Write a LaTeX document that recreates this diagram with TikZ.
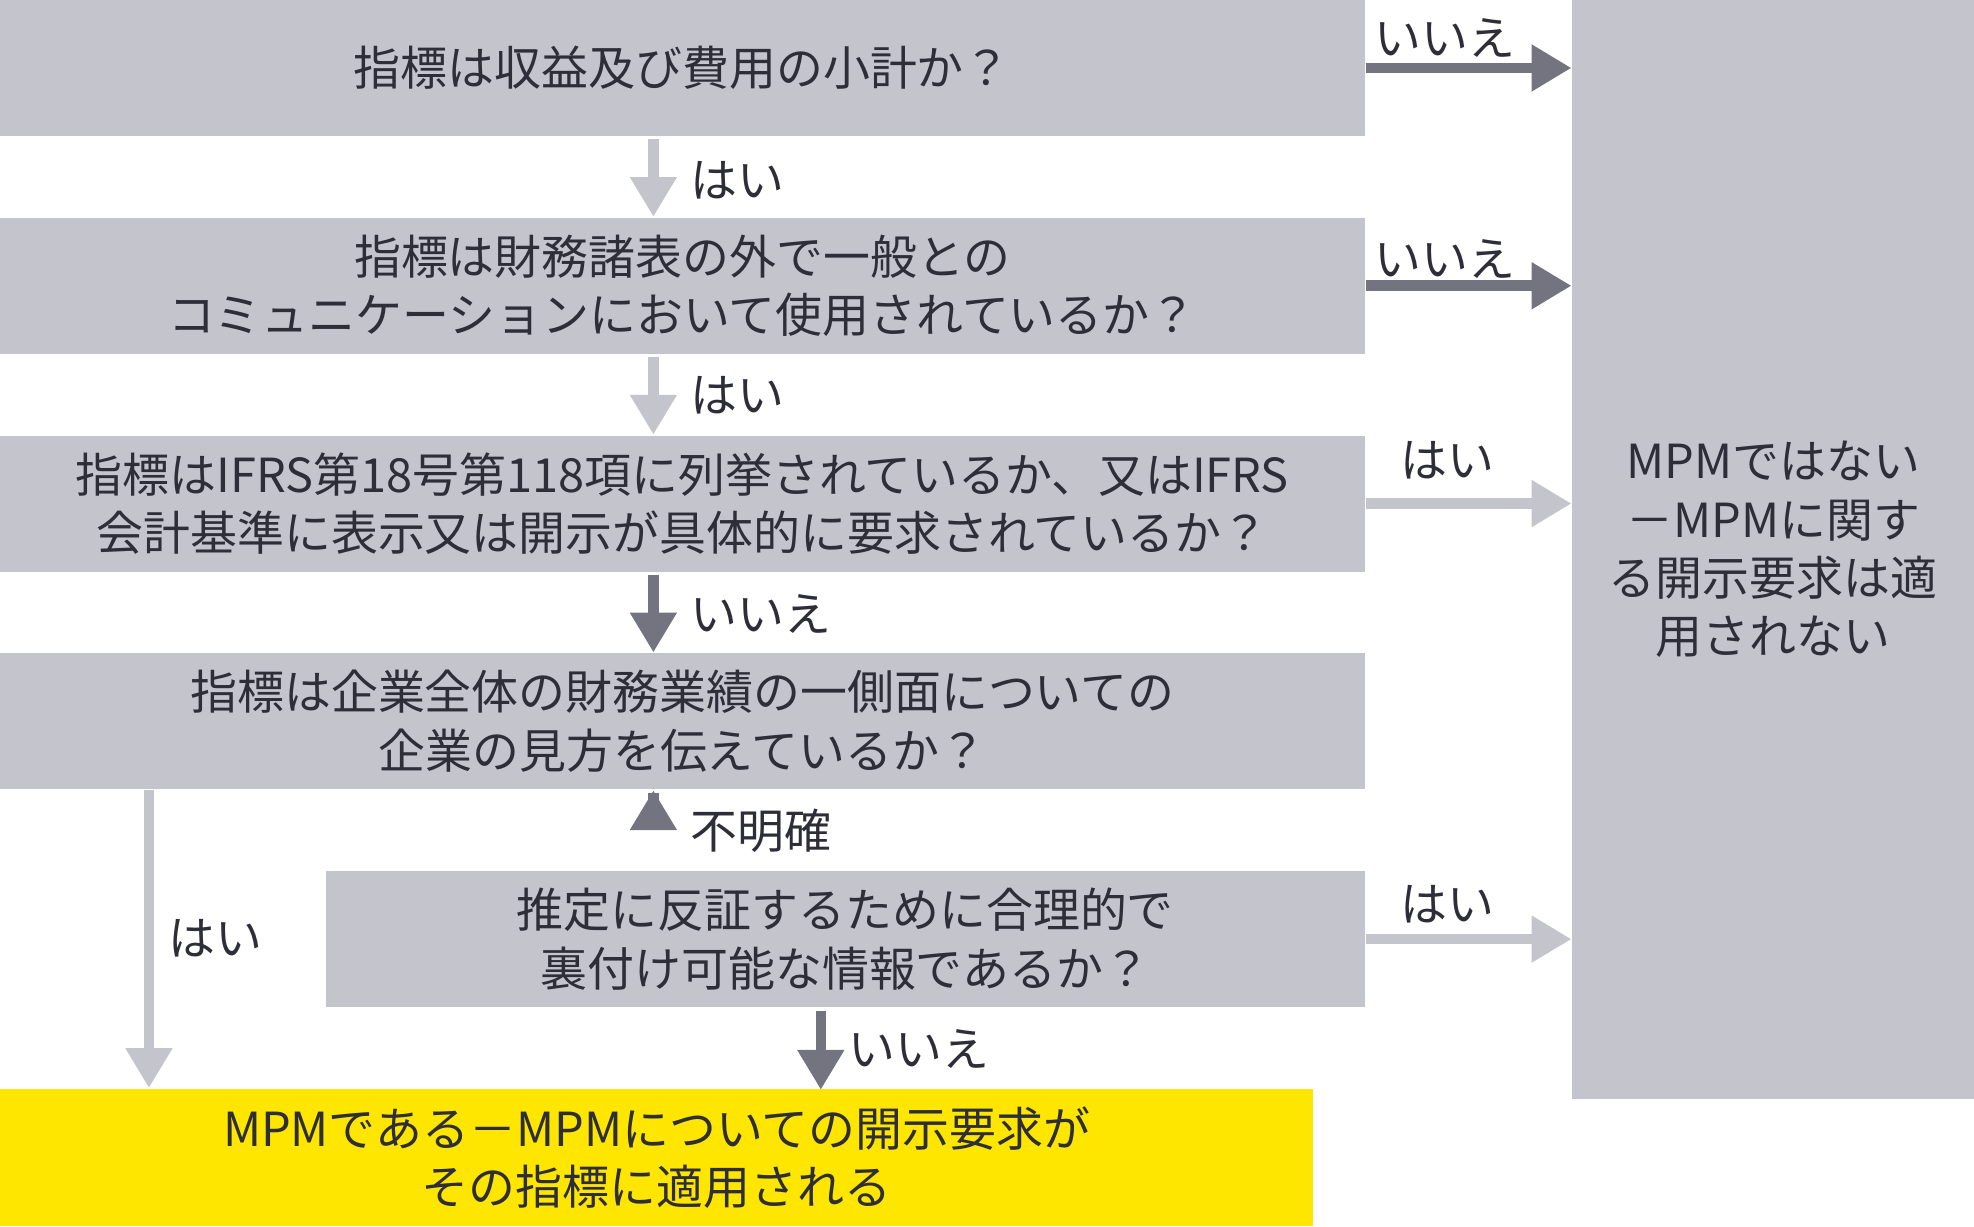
\documentclass[tikz,border=0pt]{standalone}
\usepackage{fontspec}
\setmainfont{Noto Sans CJK JP}
\usetikzlibrary{arrows.meta,calc}
\definecolor{boxgray}{HTML}{C4C4CD}
\definecolor{darkarr}{HTML}{747480}
\definecolor{txt}{HTML}{2E2E38}
\definecolor{eyyellow}{HTML}{FFE600}
\tikzset{
  box/.style={fill=boxgray, text=txt, align=center, inner sep=0pt,
    font=\fontsize{10.6}{13.2}\selectfont},
  lightarr/.style={draw=boxgray, line width=2.4pt, -{Triangle[length=9pt,width=10pt]}},
  darkarr/.style={draw=darkarr, line width=2.4pt, -{Triangle[length=9pt,width=10pt]}},
  lbl/.style={text=txt, font=\fontsize{10.6}{13.2}\selectfont, inner sep=0pt}
}
\begin{document}
\begin{tikzpicture}[x=0.01cm, y=-0.01cm]
  \useasboundingbox (0,0) rectangle (1568,974);
  % question boxes
  \node[box, minimum width=1084*0.01cm, minimum height=108*0.01cm] (q1) at (542,54) {指標は収益及び費用の小計か？};
  \node[box, minimum width=1084*0.01cm, minimum height=108*0.01cm] (q2) at (542,227) {指標は財務諸表の外で一般との\\コミュニケーションにおいて使用されているか？};
  \node[box, minimum width=1084*0.01cm, minimum height=108*0.01cm] (q3) at (542,400) {指標はIFRS第18号第118項に列挙されているか、又はIFRS\\会計基準に表示又は開示が具体的に要求されているか？};
  \node[box, minimum width=1084*0.01cm, minimum height=108*0.01cm] (q4) at (542,573) {指標は企業全体の財務業績の一側面についての\\企業の見方を伝えているか？};
  \node[box, minimum width=825*0.01cm, minimum height=108*0.01cm] (q5) at (671.5,746) {推定に反証するために合理的で\\裏付け可能な情報であるか？};
  \node[box, fill=eyyellow, minimum width=1043*0.01cm, minimum height=109*0.01cm] (yes) at (521.5,919.5) {MPMである－MPMについての開示要求が\\その指標に適用される};
  \node[box, minimum width=319*0.01cm, minimum height=873*0.01cm, font=\fontsize{10.6}{13.2}\selectfont] (no) at (1408.5,436.5) {MPMではない\\－MPMに関す\\る開示要求は適\\用されない};
  % downward arrows
  \draw[lightarr] ($(q1.south)+(-23,2)$) -- ($(q2.north)+(-23,0)$);
  \node[lbl, anchor=west] (l1) at (548,143) {はい};
  \draw[lightarr] ($(q2.south)+(-23,2)$) -- ($(q3.north)+(-23,0)$);
  \node[lbl, anchor=west] (l2) at (548,314) {はい};
  \draw[darkarr] ($(q3.south)+(-23,2)$) -- ($(q4.north)+(-23,0)$);
  \node[lbl, anchor=west] (l3) at (548,488) {いいえ};
  \draw[darkarr] ($(q4.south)+(-23,2)$) -- (q4.south -| 519,0 |- q5.north);
  \node[lbl, anchor=west] (l4) at (548,660) {不明確};
  \draw[darkarr] ($(q5.south)+(-19.5,2)$) -- ($(q5.south)+(-19.5,65)$);
  \node[lbl, anchor=west] (l5) at (673,833) {いいえ};
  \draw[lightarr] ($(q4.south west)+(119,0)$) -- ($(yes.north west)+(119,0)$);
  \node[lbl, anchor=west] (l6) at (133,745) {はい};
  % arrows to the right
  \draw[darkarr] (q1.east) -- (q1.east -| no.west);
  \node[lbl, anchor=west] (r1) at (1091,30) {いいえ};
  \draw[darkarr] (q2.east) -- (q2.east -| no.west);
  \node[lbl, anchor=west] (r2) at (1091,206) {いいえ};
  \draw[lightarr] (q3.east) -- (q3.east -| no.west);
  \node[lbl, anchor=west] (r3) at (1112,366) {はい};
  \draw[lightarr] (q5.east) -- (q5.east -| no.west);
  \node[lbl, anchor=west] (r4) at (1112,718) {はい};
\end{tikzpicture}
\end{document}
